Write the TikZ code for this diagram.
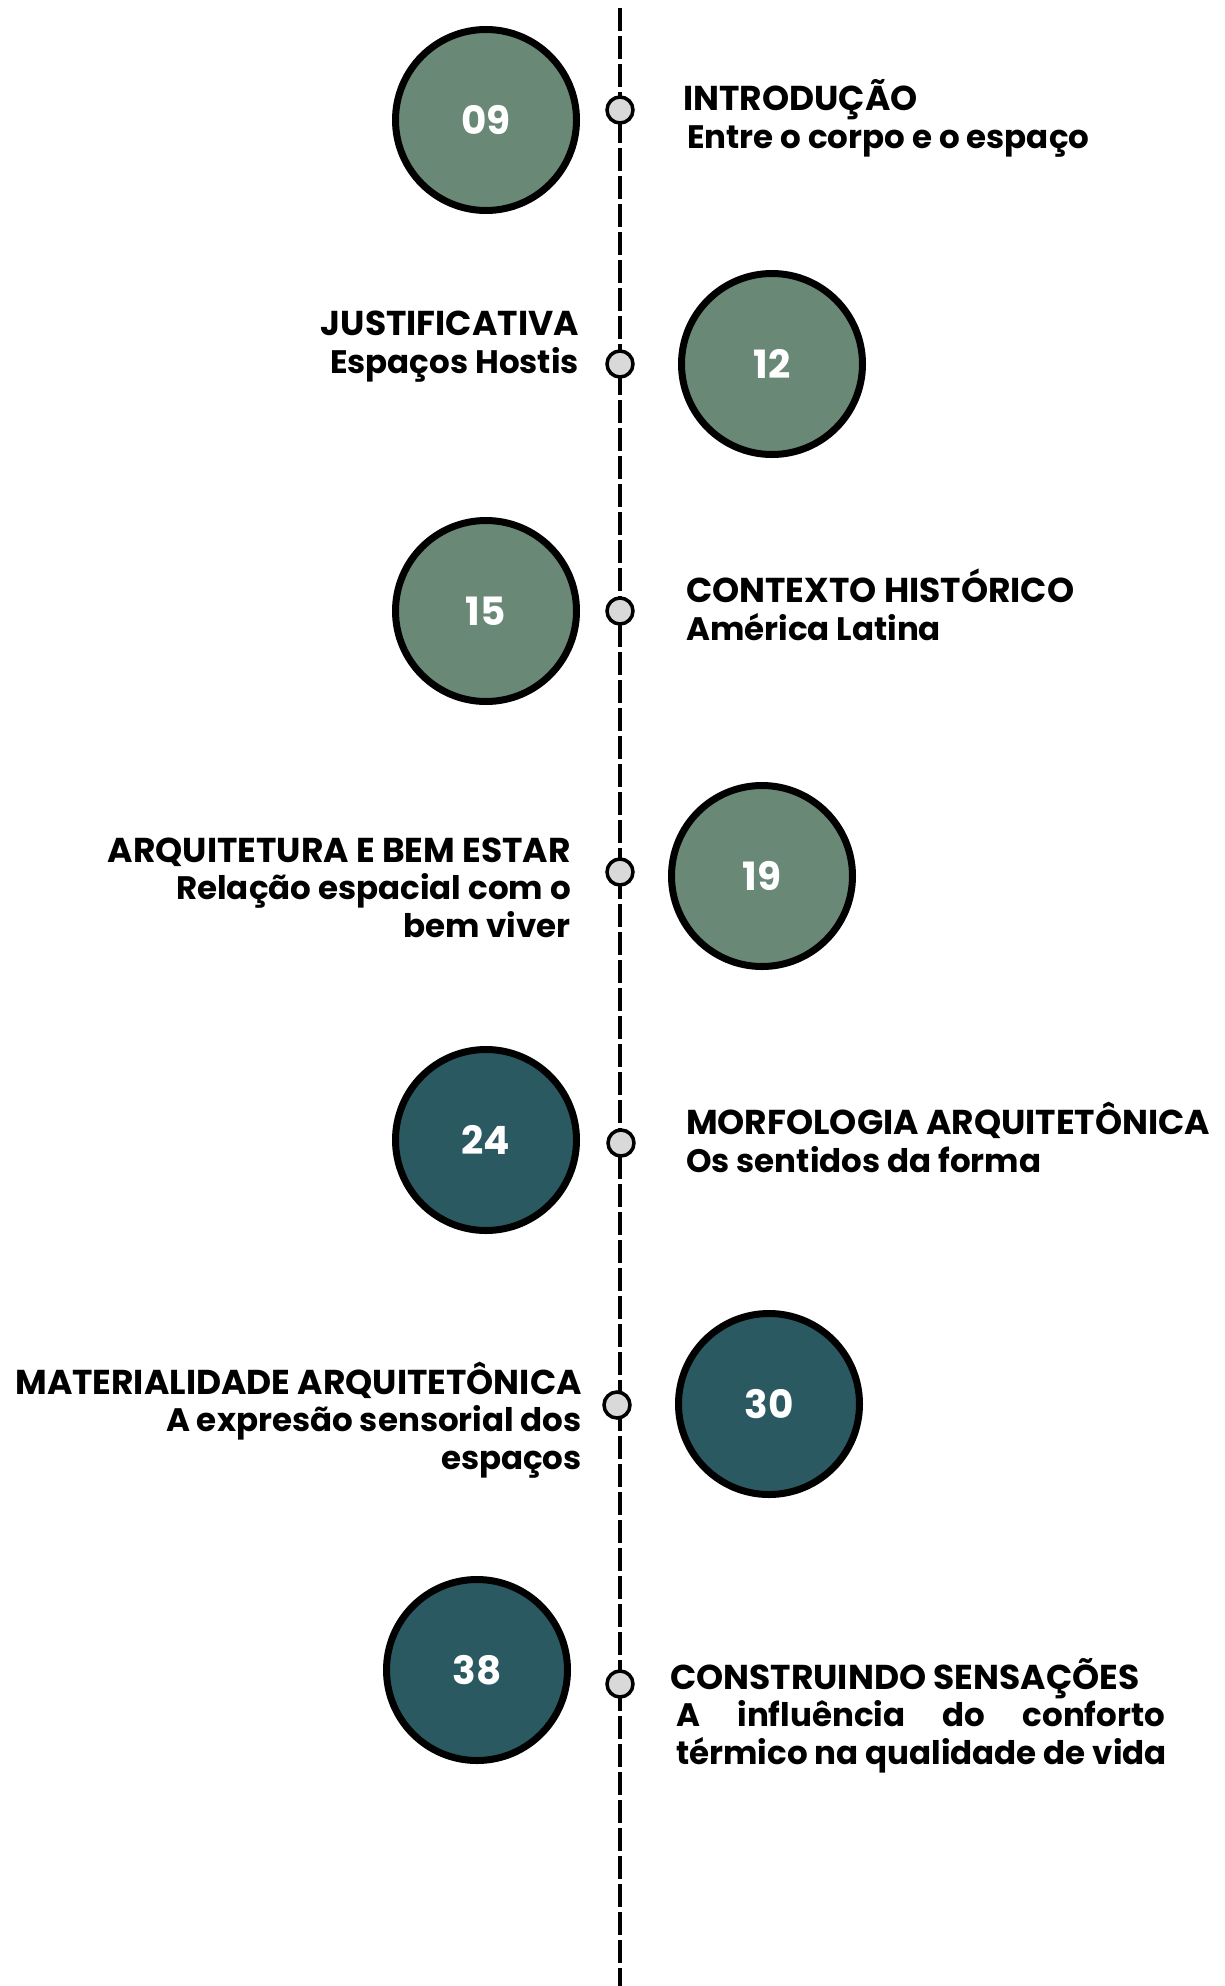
\documentclass[tikz,border=0pt]{standalone}
\usepackage{fontspec}
\setmainfont{Poppins}
\usepackage{tikz}
\definecolor{sagegreen}{RGB}{106,136,118}
\definecolor{deepteal}{RGB}{42,89,98}
\definecolor{dotgray}{RGB}{217,217,217}
\newcommand{\subline}[1]{{\fontsize{32.5}{37.5}\selectfont #1}}
\tikzset{
  pagecircle/.style={circle, draw=black, line width=7pt, minimum size=181pt,
    inner sep=0pt, text=white, font=\fontsize{39}{39}\selectfont\bfseries},
  stopdot/.style={circle, draw=black, fill=dotgray, line width=3.5pt,
    minimum size=26pt, inner sep=0pt},
  rightlabel/.style={anchor=base west, align=left, inner sep=0pt,
    font=\fontsize{34.5}{37.5}\selectfont\bfseries},
  leftlabel/.style={anchor=base east, align=right, inner sep=0pt,
    font=\fontsize{34.5}{37.5}\selectfont\bfseries}
}

\begin{document}
\begin{tikzpicture}[x=1pt,y=-1pt]
        \useasboundingbox (0,0) rectangle (1225,1986);
        \coordinate (linetop) at (620,8);
        \coordinate (linebottom) at (620,1986);
        \draw[line width=4pt, dash pattern=on 23pt off 5pt] (linetop) -- (linebottom);

        \node[stopdot] (dotintro) at (620,110) {};
        \node[stopdot] (dotjust) at (620,364) {};
        \node[stopdot] (dotcontext) at (620,611) {};
        \node[stopdot] (dotwell) at (620,872) {};
        \node[stopdot] (dotmorph) at (621,1143) {};
        \node[stopdot] (dotmat) at (617,1405) {};
        \node[stopdot] (dotbuild) at (620,1684) {};

        \node[pagecircle, fill=sagegreen] (pageintro) at (486,120) {09};
        \node[pagecircle, fill=sagegreen] (pagejust) at (772,364) {12};
        \node[pagecircle, fill=sagegreen] (pagecontext) at (486,611) {15};
        \node[pagecircle, fill=sagegreen] (pagewell) at (762,876) {19};
        \node[pagecircle, fill=deepteal] (pagemorph) at (486,1140) {24};
        \node[pagecircle, fill=deepteal] (pagemat) at (769,1404) {30};
        \node[pagecircle, fill=deepteal] (pagebuild) at (477,1670) {38};

        \node[rightlabel] (textintro) at (683,148) {INTRODUÇÃO\\ \hspace{4pt}\subline{Entre o corpo e o espaço}};
        \node[leftlabel] (textjust) at (579,373) {JUSTIFICATIVA\\ \subline{Espaços Hostis}};
        \node[rightlabel] (textcontext) at (686,640) {CONTEXTO HISTÓRICO\\ \subline{América Latina}};
        \node[leftlabel] (textwell) at (571,937) {ARQUITETURA E BEM ESTAR\\ \subline{Relação espacial com o}\\ \subline{bem viver}};
        \node[rightlabel] (textmorph) at (686,1172) {MORFOLOGIA ARQUITETÔNICA\\ \subline{Os sentidos da forma}};
        \node[leftlabel] (textmat) at (582,1469) {MATERIALIDADE ARQUITETÔNICA\\ \subline{A expresão sensorial dos}\\ \subline{espaços}};
        \node[rightlabel] (textbuild) at (670,1764) {CONSTRUINDO SENSAÇÕES\\
            \subline{\hbox to 495pt{\hspace{6pt}A\hfill influência\hfill do\hfill conforto}}\\
            \hspace{6pt}\subline{térmico na qualidade de vida}};
    \end{tikzpicture}
\end{document}
